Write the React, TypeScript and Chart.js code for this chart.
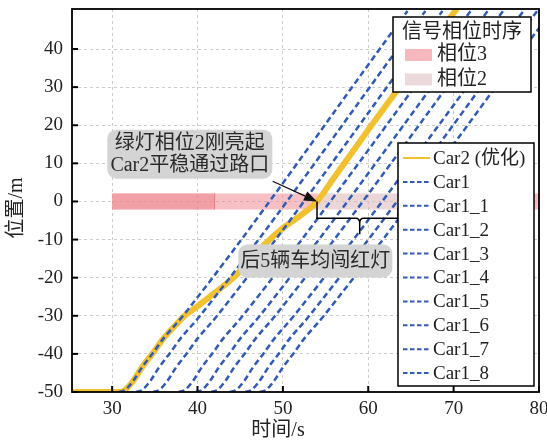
import React, { useEffect, useRef } from 'react';
import { Chart, registerables } from 'chart.js';
Chart.register(...registerables);

const FONT = "'Liberation Serif', 'Noto Sans CJK SC', serif";
const YELLOW = '#f1c12f';
const BLUE = '#2f5ab6';

// ---- axis ticks ----
const xTickValues = [30, 40, 50, 60, 70, 80];
const yTickValues = [-50, -40, -30, -20, -10, 0, 10, 20, 30, 40];

// ---- Car2 (optimized) trajectory ----
const car2Time = [25.3, 30.8, 31.5, 32.5, 33.5, 34.7, 36.0, 37.2, 38.5, 40.0, 42.0, 44.2, 46.0, 48.0, 50.0, 52.0, 54.0, 56.0, 58.0, 60.0, 63.5, 67.0, 70.5];
const car2Pos = [-50, -50, -49.5, -47, -43.5, -40, -36, -33, -30, -27.5, -24, -20, -16, -11, -7, -3.8, 0, 6.3, 12.5, 18.8, 29.5, 40.2, 51];

// ---- Car1 platoon trajectories (positions shared, times per car) ----
const car1Pos = [-50, -49.5, -47, -43.5, -40, -36, -30, 50];
const car1Time = [30.8, 31.5, 32.5, 33.5, 34.7, 36.0, 38.3, 64.6];
const car1_1Time = [32.8, 33.5, 34.5, 35.5, 36.7, 38.0, 40.3, 66.7];
const car1_2Time = [34.8, 35.5, 36.5, 37.5, 38.7, 40.0, 42.3, 68.7];
const car1_3Time = [37.8, 38.5, 39.5, 40.5, 41.7, 43.0, 45.3, 72.0];
const car1_4Time = [39.8, 40.5, 41.5, 42.5, 43.7, 45.0, 47.3, 74.0];
const car1_5Time = [41.6, 42.3, 43.3, 44.3, 45.5, 46.8, 49.1, 75.8];
const car1_6Time = [43.8, 44.5, 45.5, 46.5, 47.7, 49.0, 51.3, 78.2];
const car1_7Time = [45.6, 46.3, 47.3, 48.3, 49.5, 50.8, 53.1, 79.8];
const car1_8Time = [47.3, 48.0, 49.0, 50.0, 51.2, 52.5, 54.8, 81.5];
const car1Names = ['Car1', 'Car1_1', 'Car1_2', 'Car1_3', 'Car1_4', 'Car1_5', 'Car1_6', 'Car1_7', 'Car1_8'];
const car1Times = [car1Time, car1_1Time, car1_2Time, car1_3Time, car1_4Time, car1_5Time, car1_6Time, car1_7Time, car1_8Time];

// ---- signal phase timing (time spans on the stop line) ----
const phase3Spans = [[30, 42], [30, 54], [63.6, 82]];
const phase2Spans = [[54, 63.6]];
const bandHalfWidth = 2.1;

const PHASE3_FILL = 'rgba(238,130,138,0.5)';
const PHASE2_FILL = 'rgba(218,180,184,0.55)';
const PHASE3_SWATCH = '#f6b8bc';
const PHASE2_SWATCH = '#ecd9db';

function roundRect(ctx: CanvasRenderingContext2D, x: number, y: number, w: number, h: number, r: number) {
  ctx.beginPath();
  ctx.moveTo(x + r, y);
  ctx.arcTo(x + w, y, x + w, y + h, r);
  ctx.arcTo(x + w, y + h, x, y + h, r);
  ctx.arcTo(x, y + h, x, y, r);
  ctx.arcTo(x, y, x + w, y, r);
  ctx.closePath();
}

const bandPlugin = {
  id: 'bands',
  beforeDatasetsDraw(chart: any) {
    const { ctx, chartArea: ca, scales } = chart;
    const x = scales.x, y = scales.y;
    ctx.save();
    ctx.beginPath();
    ctx.rect(ca.left, ca.top, ca.right - ca.left, ca.bottom - ca.top);
    ctx.clip();
    const yt = y.getPixelForValue(bandHalfWidth);
    const yb = y.getPixelForValue(-bandHalfWidth);
    const fill = (spans: number[][], color: string) => {
      spans.forEach(([a, b]) => {
        const xa = x.getPixelForValue(a);
        const xb = x.getPixelForValue(b);
        ctx.fillStyle = color;
        ctx.fillRect(xa, yt, xb - xa, yb - yt);
      });
    };
    fill(phase3Spans, PHASE3_FILL);
    fill(phase2Spans, PHASE2_FILL);
    const xe = x.getPixelForValue(phase3Spans[0][1]);
    ctx.strokeStyle = 'rgba(215,90,100,0.6)';
    ctx.lineWidth = 1;
    ctx.beginPath();
    ctx.moveTo(xe, yt);
    ctx.lineTo(xe, yb);
    ctx.stroke();
    ctx.restore();
  },
};

const overlayPlugin = {
  id: 'overlay',
  afterDatasetsDraw(chart: any) {
    const { ctx, chartArea: ca, scales } = chart;
    const x = scales.x, y = scales.y;
    ctx.save();

    // arrow
    const ax0 = x.getPixelForValue(48.8), ay0 = y.getPixelForValue(5.3);
    const ax1 = x.getPixelForValue(54.0), ay1 = y.getPixelForValue(0);
    const ang = Math.atan2(ay1 - ay0, ax1 - ax0);
    const hl = 13, hw = 5;
    ctx.strokeStyle = '#111';
    ctx.fillStyle = '#111';
    ctx.lineWidth = 1.3;
    ctx.beginPath();
    ctx.moveTo(ax0, ay0);
    ctx.lineTo(ax1 - hl * Math.cos(ang), ay1 - hl * Math.sin(ang));
    ctx.stroke();
    ctx.beginPath();
    ctx.moveTo(ax1, ay1);
    ctx.lineTo(ax1 - hl * Math.cos(ang) + hw * Math.sin(ang), ay1 - hl * Math.sin(ang) - hw * Math.cos(ang));
    ctx.lineTo(ax1 - hl * Math.cos(ang) - hw * Math.sin(ang), ay1 - hl * Math.sin(ang) + hw * Math.cos(ang));
    ctx.closePath();
    ctx.fill();

    // bracket
    const bl = x.getPixelForValue(54.0), br = x.getPixelForValue(63.5), bm = x.getPixelForValue(59.0);
    const btop = y.getPixelForValue(0), bh = y.getPixelForValue(-4.4), btip = y.getPixelForValue(-8.6);
    const brTop = y.getPixelForValue(-1.8);
    ctx.lineWidth = 1.5;
    ctx.strokeStyle = '#000';
    ctx.beginPath();
    ctx.moveTo(bl, btop);
    ctx.lineTo(bl, bh);
    ctx.lineTo(bm - 4, bh);
    ctx.quadraticCurveTo(bm, bh, bm, bh + 5);
    ctx.lineTo(bm, btip);
    ctx.moveTo(br, brTop);
    ctx.lineTo(br, bh);
    ctx.lineTo(bm + 4, bh);
    ctx.quadraticCurveTo(bm, bh, bm, bh + 5);
    ctx.stroke();

    // annotation boxes
    const boxes = [
      { cx: 39.1, cy: 12.4, w: 165, h: 49, lines: ['绿灯相位2刚亮起', 'Car2平稳通过路口'] },
      { cx: 53.8, cy: -15.6, w: 154, h: 33, lines: ['后5辆车均闯红灯'] },
    ];
    boxes.forEach((b) => {
      const px = x.getPixelForValue(b.cx), py = y.getPixelForValue(b.cy);
      ctx.fillStyle = '#d4d4d4';
      roundRect(ctx, px - b.w / 2, py - b.h / 2, b.w, b.h, 9);
      ctx.fill();
      ctx.fillStyle = '#2a2a2a';
      ctx.font = `20px ${FONT}`;
      ctx.textAlign = 'center';
      ctx.textBaseline = 'middle';
      const lh = 22;
      b.lines.forEach((t, i) => {
        ctx.fillText(t, px, py + (i - (b.lines.length - 1) / 2) * lh + 1);
      });
    });

    // frame
    ctx.strokeStyle = '#000';
    ctx.lineWidth = 1.8;
    ctx.strokeRect(ca.left, ca.top, ca.right - ca.left, ca.bottom - ca.top);

    // inward tick marks
    ctx.lineWidth = 2;
    xTickValues.forEach((v) => {
      const p = x.getPixelForValue(v);
      ctx.beginPath();
      ctx.moveTo(p, ca.bottom);
      ctx.lineTo(p, ca.bottom - 6);
      ctx.stroke();
    });
    yTickValues.forEach((v) => {
      const p = y.getPixelForValue(v);
      ctx.beginPath();
      ctx.moveTo(ca.left, p);
      ctx.lineTo(ca.left + 6, p);
      ctx.stroke();
    });

    // axis titles
    ctx.fillStyle = '#222';
    ctx.font = `20px ${FONT}`;
    ctx.textAlign = 'center';
    ctx.textBaseline = 'middle';
    ctx.fillText('时间/s', 278, 431);
    ctx.save();
    ctx.translate(17, 208);
    ctx.rotate(-Math.PI / 2);
    ctx.fillText('位置/m', 0, 0);
    ctx.restore();

    // legend 1: signal phases
    ctx.fillStyle = '#fff';
    ctx.fillRect(393, 17, 138, 75);
    ctx.strokeStyle = '#000';
    ctx.lineWidth = 1.5;
    ctx.strokeRect(393, 17, 138, 75);
    ctx.fillStyle = '#222';
    ctx.font = `20px ${FONT}`;
    ctx.textAlign = 'center';
    ctx.fillText('信号相位时序', 462, 33);
    const phaseLegend = [
      { label: '相位3', color: PHASE3_SWATCH },
      { label: '相位2', color: PHASE2_SWATCH },
    ];
    phaseLegend.forEach((it, i) => {
      const cy = 55 + i * 24.5;
      ctx.fillStyle = it.color;
      ctx.fillRect(405, cy - 6, 27, 12);
      ctx.fillStyle = '#222';
      ctx.textAlign = 'left';
      ctx.fillText(it.label, 437, cy);
    });

    // legend 2: vehicles
    ctx.fillStyle = '#fff';
    ctx.fillRect(398, 143, 136, 243);
    ctx.strokeStyle = '#000';
    ctx.lineWidth = 1.5;
    ctx.strokeRect(398, 143, 136, 243);
    chart.data.datasets.forEach((ds: any, i: number) => {
      const cy = 158 + i * 23.9;
      ctx.strokeStyle = ds.borderColor;
      ctx.lineWidth = 2;
      ctx.setLineDash(ds.borderDash ? [4.5, 2.5] : []);
      ctx.beginPath();
      ctx.moveTo(403, cy);
      ctx.lineTo(430, cy);
      ctx.stroke();
      ctx.setLineDash([]);
      ctx.fillStyle = '#222';
      ctx.font = `19px ${FONT}`;
      ctx.textAlign = 'left';
      ctx.textBaseline = 'middle';
      ctx.fillText(ds.label, 433, cy + 1);
    });

    ctx.restore();
  },
};

export default function App() {
  const ref = useRef<HTMLCanvasElement>(null);
  useEffect(() => {
    document.body.style.margin = '0';
    const datasets: any[] = [
      {
        label: 'Car2 (优化)',
        data: car2Time.map((t, i) => ({ x: t, y: car2Pos[i] })),
        borderColor: YELLOW,
        borderWidth: 6,
        pointRadius: 0,
        cubicInterpolationMode: 'monotone',
        order: 10,
      },
      ...car1Times.map((times, k) => ({
        label: car1Names[k],
        data: times.map((t, i) => ({ x: t, y: car1Pos[i] })),
        borderColor: BLUE,
        borderWidth: 2.5,
        borderDash: [6, 3.5],
        pointRadius: 0,
        cubicInterpolationMode: 'monotone',
        order: 1,
      })),
    ];
    const tickFont = { family: FONT, size: 19 };
    const chart = new Chart(ref.current as HTMLCanvasElement, {
      type: 'line',
      data: { datasets },
      options: {
        animation: false,
        responsive: true,
        maintainAspectRatio: false,
        layout: { padding: { top: 9, right: 8, left: 0, bottom: 0 } },
        plugins: { legend: { display: false }, tooltip: { enabled: false } },
        scales: {
          x: {
            type: 'linear',
            min: 25.3,
            max: 80,
            afterBuildTicks: (s: any) => {
              s.ticks = xTickValues.map((v) => ({ value: v }));
            },
            afterFit: (s: any) => {
              s.height = 53;
              s.paddingLeft = 0;
              s.paddingRight = 0;
              s.paddingTop = 0;
              s.paddingBottom = 0;
            },
            ticks: { font: tickFont, color: '#222', padding: 6, maxRotation: 0 },
            grid: { color: '#cccccc', lineWidth: 1, drawTicks: false },
            border: { display: false, dash: [3, 3] },
          },
          y: {
            type: 'linear',
            min: -50,
            max: 50.5,
            afterBuildTicks: (s: any) => {
              s.ticks = yTickValues.map((v) => ({ value: v }));
            },
            afterFit: (s: any) => {
              s.width = 72;
              s.paddingLeft = 0;
              s.paddingRight = 0;
              s.paddingTop = 0;
              s.paddingBottom = 0;
            },
            ticks: { font: tickFont, color: '#222', padding: 9 },
            grid: { color: '#cccccc', lineWidth: 1, drawTicks: false },
            border: { display: false, dash: [3, 3] },
          },
        },
      } as any,
      plugins: [bandPlugin, overlayPlugin],
    });
    return () => chart.destroy();
  }, []);
  return (
    <div style={{ position: 'fixed', left: 0, top: 0, width: 547, height: 445, background: '#fff' }}>
      <canvas ref={ref} />
    </div>
  );
}
